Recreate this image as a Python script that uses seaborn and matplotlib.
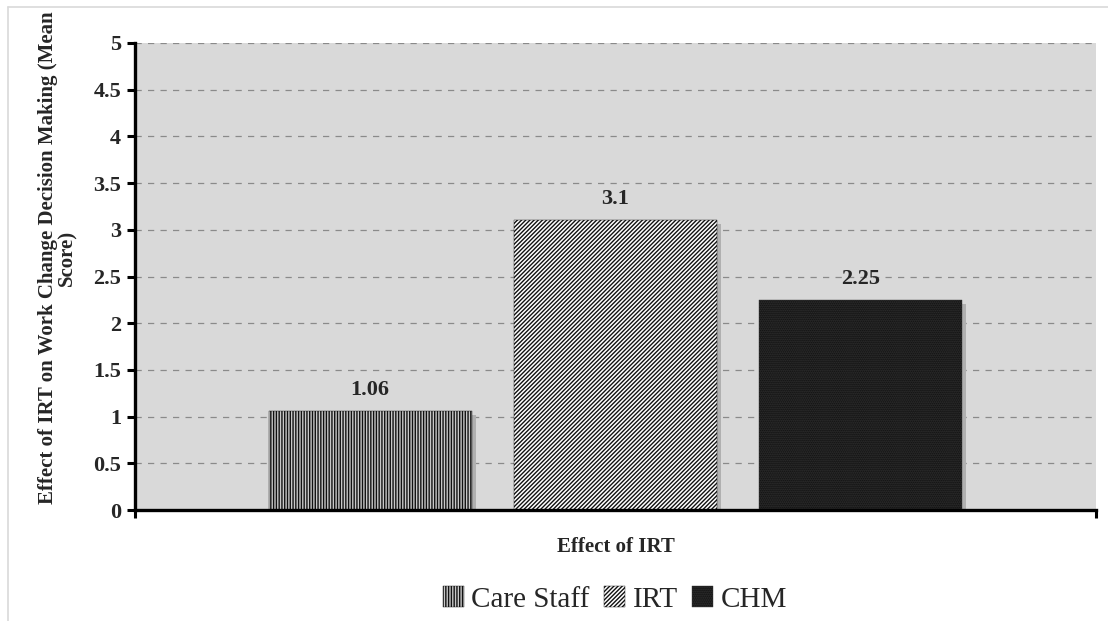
import pandas as pd
import matplotlib.pyplot as plt
import matplotlib.patches as mpatches
from matplotlib.transforms import offset_copy
from matplotlib.lines import Line2D
import seaborn as sns

# data
category = ["Effect of IRT"]
groups = ["Care Staff", "IRT", "CHM"]
scores = [1.06, 3.1, 2.25]

df = pd.DataFrame({"category": category * len(groups), "group": groups, "score": scores})

sns.set_style("white")
plt.rcParams["font.family"] = ["Liberation Serif", "DejaVu Serif"]
plt.rcParams["hatch.linewidth"] = 1.0

fig = plt.figure(figsize=(11.08, 6.21), dpi=100)
ax = fig.add_axes([0.1218, 0.1787, 0.8674, 0.7521])
ax.set_facecolor("#d9d9d9")

sns.barplot(data=df, x="category", y="score", hue="group", hue_order=groups,
            width=0.766, gap=0.173, ax=ax, legend=False)

# bar styles: face colour, hatch, hatch colour
styles = {
    "Care Staff": ("#c8c8c8", "||||||", "#111111"),
    "IRT": ("#ffffff", "////////", "#111111"),
    "CHM": ("#0a0a0a", "........", "#3a3a3a"),
}

bars = [p for p in ax.patches if isinstance(p, mpatches.Rectangle)][:len(groups)]
shadow_tr = offset_copy(ax.transData, fig=fig, x=4, y=-4, units="dots")
for p, g in zip(bars, groups):
    fc, h, hc = styles[g]
    p.set_facecolor(fc)
    p.set_hatch(h)
    p.set_edgecolor(hc)
    p.set_linewidth(0.3)
    p.set_zorder(3)
    sh = mpatches.Rectangle((p.get_x(), p.get_y()), p.get_width(), p.get_height(),
                            transform=shadow_tr, facecolor="#b0b0b0",
                            edgecolor="none", zorder=2)
    ax.add_patch(sh)

for c in ax.containers:
    ax.bar_label(c, fmt="%g", padding=8, fontsize=16, fontweight="bold")

# axes
ax.set_ylim(0, 5)
ax.set_xlim(-0.5, 0.5)
ax.set_yticks([0, 0.5, 1, 1.5, 2, 2.5, 3, 3.5, 4, 4.5, 5])
ax.set_yticklabels(["0", "0.5", "1", "1.5", "2", "2.5", "3", "3.5", "4", "4.5", "5"],
                   fontsize=16, fontweight="bold")
ax.set_xticks([-0.5, 0.5])
ax.set_xticklabels(["", ""])
ax.tick_params(axis="y", direction="out", length=6, width=2.2, color="black", pad=4, left=True)
ax.tick_params(axis="x", direction="out", length=6, width=2.2, color="black", bottom=True)
ax.yaxis.grid(True, linestyle=(0, (5, 5)), color="#8a8a8a", linewidth=0.9)
ax.set_axisbelow(True)
for s in ["top", "right"]:
    ax.spines[s].set_visible(False)
for s in ["left", "bottom"]:
    ax.spines[s].set_color("black")
    ax.spines[s].set_linewidth(2.4)
    ax.spines[s].set_zorder(5)

ax.set_xlabel("Effect of IRT", fontsize=15, fontweight="bold", labelpad=10)
ax.set_ylabel("Effect of IRT on Work Change Decision Making (Mean\nScore)",
              fontsize=15, fontweight="bold", linespacing=0.95)
ax.yaxis.set_label_coords(-0.06, 0.54)

# legend
handles = []
for g in groups:
    fc, h, hc = styles[g]
    handles.append(mpatches.Patch(facecolor=fc, hatch=h, edgecolor=hc, linewidth=0.3, label=g))
fig.legend(handles=handles, loc="center", bbox_to_anchor=(0.555, 0.035), ncol=3,
           frameon=False, fontsize=21, handlelength=0.72, handleheight=0.72,
           handletextpad=0.25, columnspacing=0.5)

# light frame around the figure
fig.add_artist(Line2D([0.0072, 0.0072], [0, 0.9887], color="#d9d9d9", lw=1.2))
fig.add_artist(Line2D([0.0072, 1], [0.9887, 0.9887], color="#d9d9d9", lw=1.2))

plt.savefig("out.png", dpi=100)
